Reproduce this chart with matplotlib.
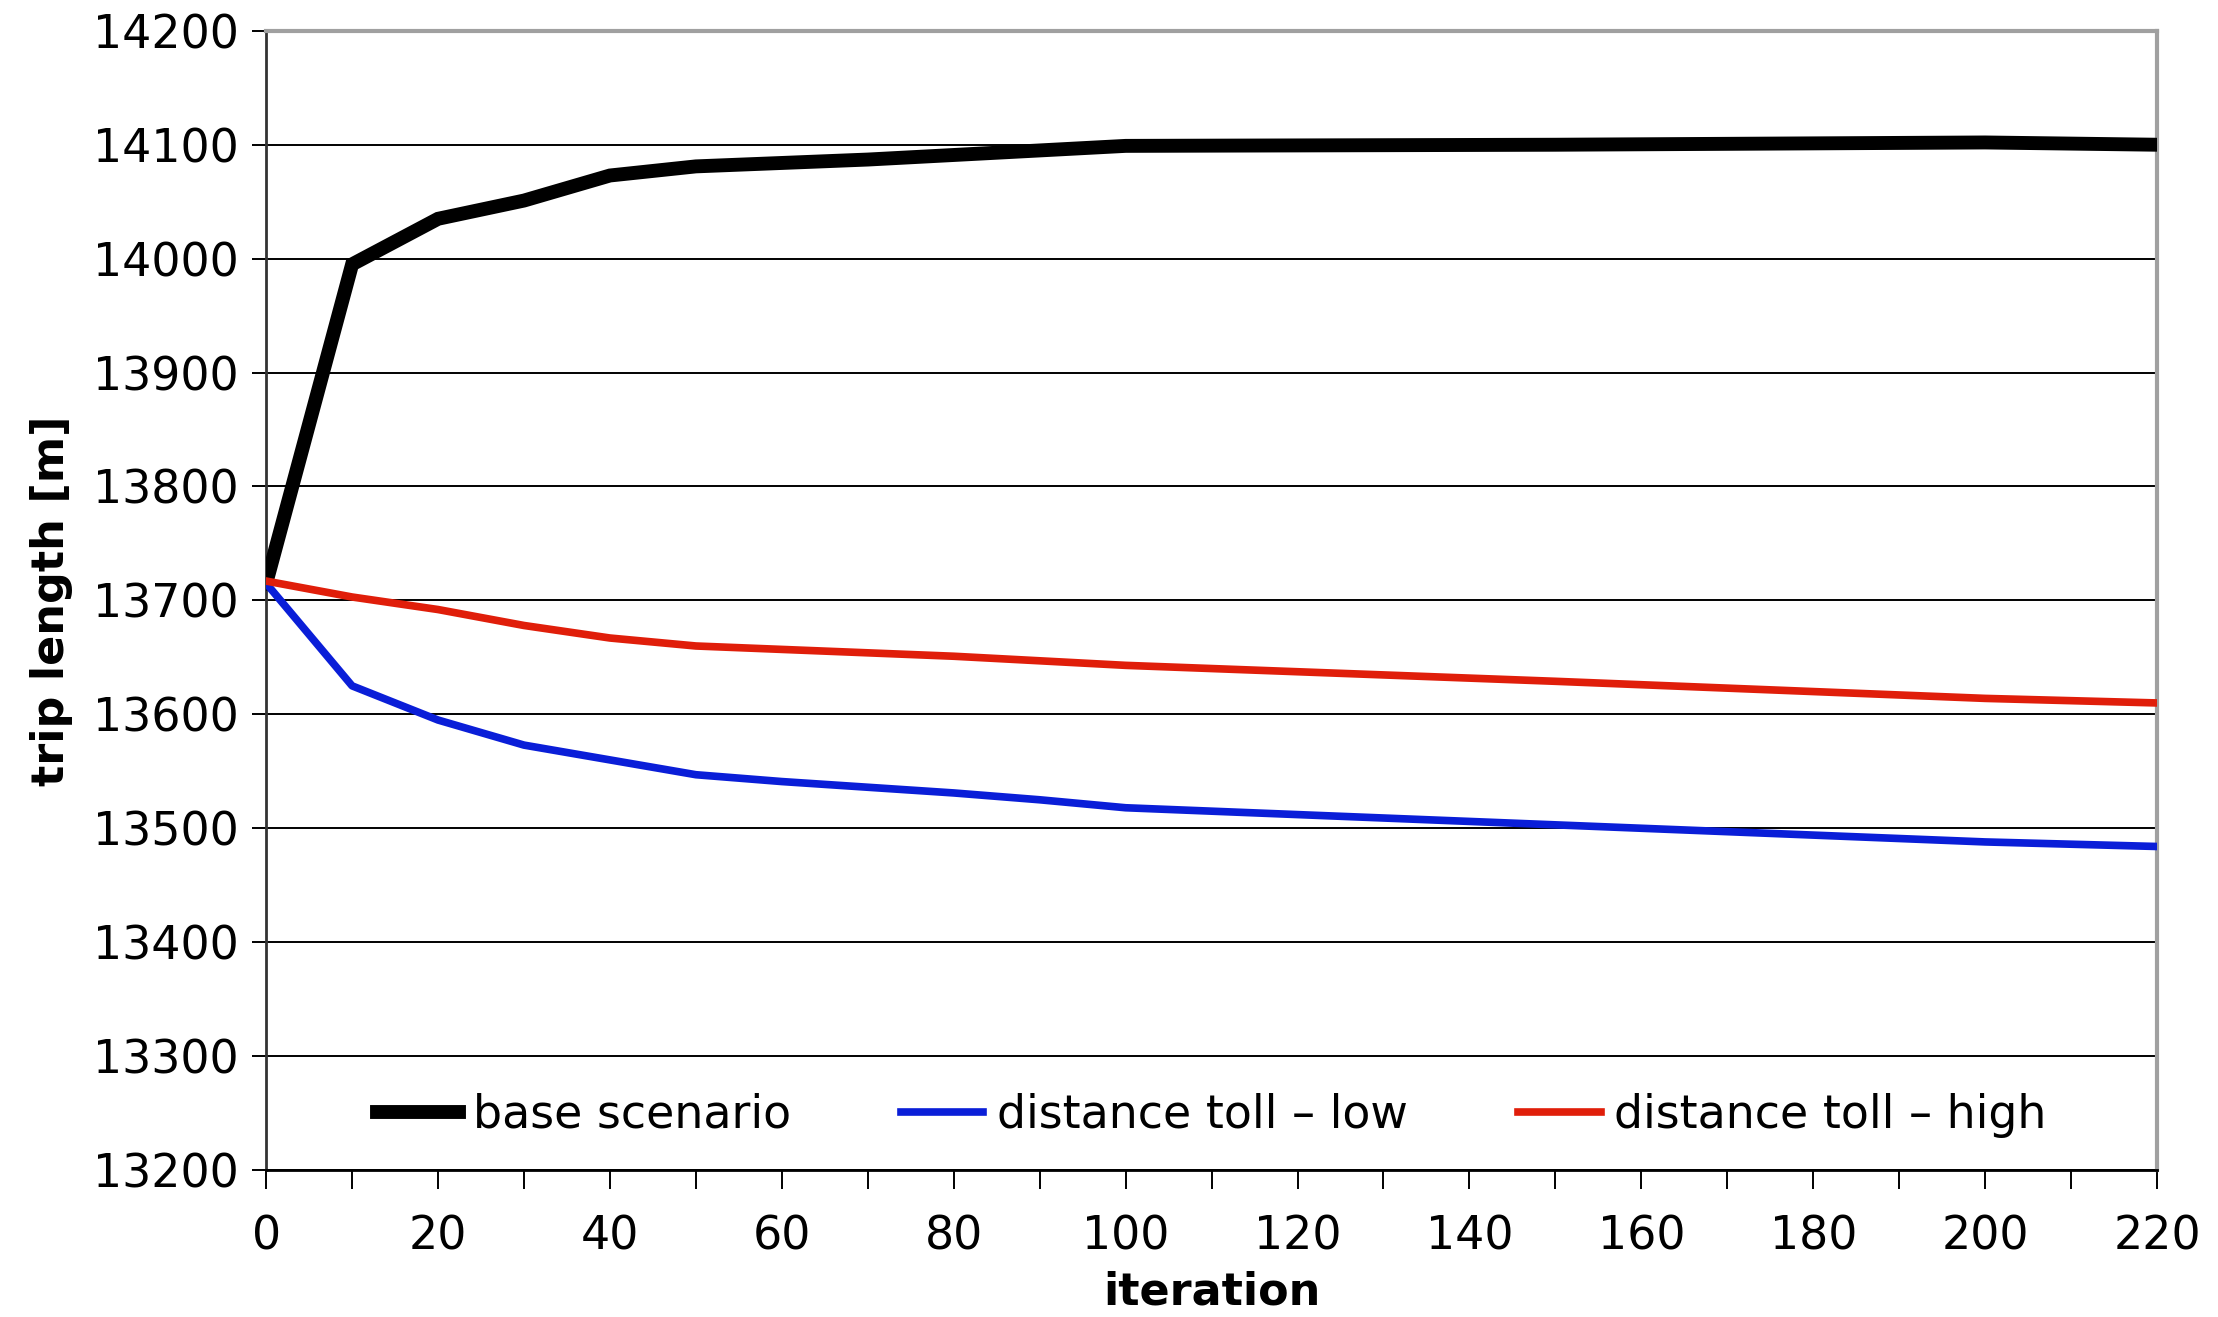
import numpy as np
import matplotlib.pyplot as plt
from matplotlib.ticker import MultipleLocator

# ------------------------------------------------------------
# data
# ------------------------------------------------------------
iteration = [0, 10, 20, 30, 40, 50, 60, 70, 80, 90, 100, 150, 200, 220]

base_scenario = [13715, 13995, 14035, 14051, 14073, 14081, 14084, 14087,
                 14091, 14095, 14099, 14100, 14102, 14100]
toll_low = [13715, 13625, 13595, 13573, 13560, 13547, 13541, 13536,
            13531, 13525, 13518, 13503, 13488, 13484]
toll_high = [13717, 13703, 13692, 13678, 13667, 13660, 13657, 13654,
             13651, 13647, 13643, 13629, 13614, 13610]

series_labels = ["base scenario", "distance toll \u2013 low", "distance toll \u2013 high"]

plt.rcParams["font.family"] = ["DejaVu Sans"]

fig = plt.figure(figsize=(22.18, 13.17), dpi=100)
ax = fig.add_axes([0.12, 0.1116, 0.8525, 0.865])

ax.plot(iteration, base_scenario, color="black", lw=10, label=series_labels[0],
        solid_joinstyle="miter", zorder=3)
ax.plot(iteration, toll_low, color="#0a1ed8", lw=5.5, label=series_labels[1], zorder=3)
ax.plot(iteration, toll_high, color="#e01e0a", lw=5.5, label=series_labels[2], zorder=3)

ax.set_xlim(0, 220)
ax.set_ylim(13200, 14200)
ax.xaxis.set_major_locator(MultipleLocator(20))
ax.xaxis.set_minor_locator(MultipleLocator(10))
ax.yaxis.set_major_locator(MultipleLocator(100))

ax.grid(axis="y", color="black", lw=1.4, zorder=1)

ax.tick_params(axis="x", which="both", direction="out", length=14, width=1.4,
               labelsize=33, pad=18)
ax.tick_params(axis="y", direction="out", length=10, width=1.4, labelsize=33, pad=10)

for side in ["top", "right"]:
    ax.spines[side].set_color("#a0a0a0")
    ax.spines[side].set_linewidth(3)
ax.spines["left"].set_color("#333333")
ax.spines["left"].set_linewidth(2)
ax.spines["bottom"].set_color("black")
ax.spines["bottom"].set_linewidth(2)

ax.set_xlabel("iteration", fontsize=32, fontweight="bold", labelpad=8)
ax.set_ylabel("trip length [m]", fontsize=32, fontweight="bold", labelpad=14)

leg = ax.legend(loc="lower center", ncol=3, frameon=False, fontsize=33,
                handlelength=1.8, columnspacing=2.4, handletextpad=0.3,
                borderaxespad=0.3, bbox_to_anchor=(0.5, 0.0))

fig.savefig("out.png", dpi=100)
